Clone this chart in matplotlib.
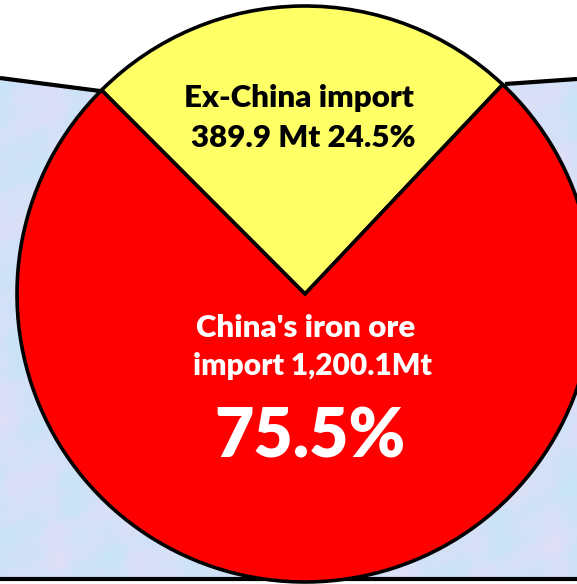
import numpy as np
import matplotlib
matplotlib.use("Agg")
import matplotlib.pyplot as plt
from matplotlib.patches import Polygon

# Import volumes (Mt)
labels = ["Ex-China import", "China's iron ore import"]
volumes = [389.9, 1200.1]
shares = [24.5, 75.5]
colors = ["#FFFF66", "#FF0000"]

W, H = 577, 584
fig = plt.figure(figsize=(W / 100, H / 100), dpi=100)
ax = fig.add_axes([0, 0, 1, 1])
ax.set_xlim(0, W)
ax.set_ylim(0, H)
ax.set_aspect("equal")
ax.axis("off")
fig.patch.set_facecolor("white")


def Y(y_top):
    return H - y_top


# light blue tissue-like backdrop behind the pie
backdrop = [(0, Y(78)), (100, Y(91)), (505, Y(84)), (W, Y(79)), (W, Y(579)), (0, Y(579))]
poly = Polygon(backdrop, closed=True, facecolor="none", edgecolor="none", zorder=1)
ax.add_patch(poly)
xx, yy = np.meshgrid(np.linspace(0, 1, W), np.linspace(0, 1, H))
m = (np.sin(37 * xx + 11 * yy) * np.sin(29 * yy - 7 * xx)
     + 0.6 * np.sin(71 * xx + 53 * yy) * np.cos(61 * yy - 23 * xx)) / 1.6
m = (m + 1) / 2
c1 = np.array([198, 228, 248]) / 255.0
c2 = np.array([224, 222, 247]) / 255.0
tex = c1[None, None, :] * (1 - m[..., None]) + c2[None, None, :] * m[..., None]
im = ax.imshow(tex, extent=(0, W, 0, H), origin="upper", zorder=1, interpolation="bilinear")
im.set_clip_path(poly)

# outline strokes of the backdrop
ax.plot([0, 100], [Y(78), Y(91)], color="black", lw=3.0, zorder=2, solid_capstyle="butt")
ax.plot([505, W], [Y(84), Y(79)], color="black", lw=3.0, zorder=2, solid_capstyle="butt")
ax.plot([0, W], [Y(579), Y(579)], color="black", lw=3.0, zorder=2, solid_capstyle="butt")

# pie: the ex-China slice is centred at the top
total = sum(volumes)
start = 90.8 - 360 * volumes[0] / total / 2
wedges, _ = ax.pie(volumes, colors=colors, startangle=start, counterclock=True,
                   center=(305, Y(294)), radius=288,
                   wedgeprops=dict(edgecolor="black", linewidth=2.6, zorder=3))
for w in wedges:
    w.set_zorder(3)
ax.set_xlim(0, W)
ax.set_ylim(0, H)

font = "Lato"
wt = "heavy"
ax.text(299, Y(107), "Ex-China import", ha="center", va="baseline",
        fontsize=22.5, fontweight=wt, family=font, color="black", zorder=4)
ax.text(303, Y(147), f"{volumes[0]} Mt {shares[0]}%", ha="center", va="baseline",
        fontsize=22.5, fontweight=wt, family=font, color="black", zorder=4)
ax.text(306, Y(337), "China's iron ore", ha="center", va="baseline",
        fontsize=22.5, fontweight=wt, family=font, color="white", zorder=4)
ax.text(312, Y(375), f"import {volumes[1]:,.1f}Mt", ha="center", va="baseline",
        fontsize=21.5, fontweight=wt, family=font, color="white", zorder=4)
ax.text(310, Y(458), f"{shares[1]}%", ha="center", va="baseline",
        fontsize=49, fontweight=wt, family=font, color="white", zorder=4)

fig.savefig("out.png", dpi=100, facecolor="white")
